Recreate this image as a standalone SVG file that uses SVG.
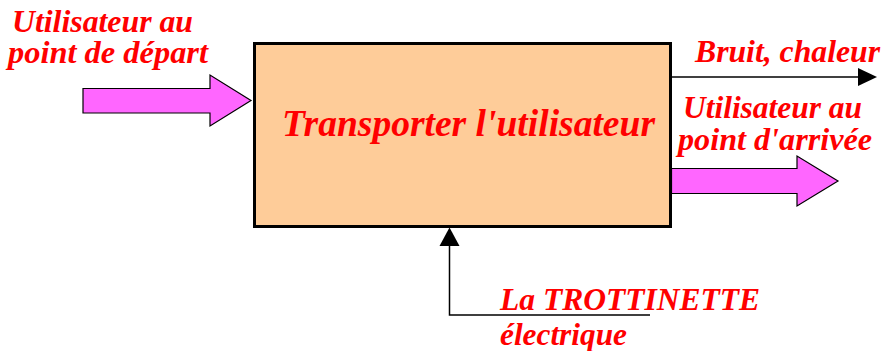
<svg xmlns="http://www.w3.org/2000/svg" width="882" height="351" viewBox="0 0 882 351">
<defs>
<style>
.t{font-family:"Liberation Serif","Times New Roman",serif;font-weight:bold;font-style:italic;fill:#ff0000;font-size:32px}
.big{font-size:38px}
.fat{fill:#ff66ff;stroke:#000;stroke-width:1.2}
.ln{stroke:#000;stroke-width:1.5;fill:none}
</style>
<marker id="ah" markerWidth="20" markerHeight="20" refX="0" refY="0" viewBox="-1 -10 21 20" orient="auto" markerUnits="userSpaceOnUse">
<path d="M0,-9.5 L20,0 L0,9.5 Z" fill="#000"/>
</marker>
</defs>
<g id="process">
<rect x="254.5" y="43.5" width="416" height="183" fill="#fecc99" stroke="#000" stroke-width="3"/>
<text class="t big" x="282" y="136" textLength="373" lengthAdjust="spacingAndGlyphs">Transporter l'utilisateur</text>
</g>
<g id="input-user">
<text class="t" x="12" y="32" textLength="181" lengthAdjust="spacingAndGlyphs">Utilisateur au</text>
<text class="t" x="8" y="63" textLength="200" lengthAdjust="spacingAndGlyphs">point de départ</text>
</g>
<g id="output-noise">
<text class="t" x="695" y="62" textLength="185" lengthAdjust="spacingAndGlyphs">Bruit, chaleur</text>
</g>
<g id="output-user">
<text class="t" x="683" y="118" textLength="179" lengthAdjust="spacingAndGlyphs">Utilisateur au</text>
<text class="t" x="678" y="150" textLength="194" lengthAdjust="spacingAndGlyphs">point d'arrivée</text>
</g>
<g id="support">
<text class="t" x="500" y="310" textLength="260" lengthAdjust="spacingAndGlyphs">La TROTTINETTE</text>
<text class="t" x="500" y="345" textLength="127" lengthAdjust="spacingAndGlyphs">électrique</text>
</g>
<g id="connectors">
<path class="fat" d="M83,88.5 H210 V75 L251,100.5 L210,126 V113 H83 Z"/>
<path class="fat" d="M671.5,168.5 H797 V156 L838,181 L797,206 V193.5 H671.5 Z"/>
<path class="ln" d="M672,77 H858" marker-end="url(#ah)"/>
<path d="M650,315 H449.5 V246" stroke="#000" stroke-width="1.5" fill="none"/>
<path d="M439.5,246 L449.5,227.5 L459.5,246 Z" fill="#000"/>
</g>
</svg>
